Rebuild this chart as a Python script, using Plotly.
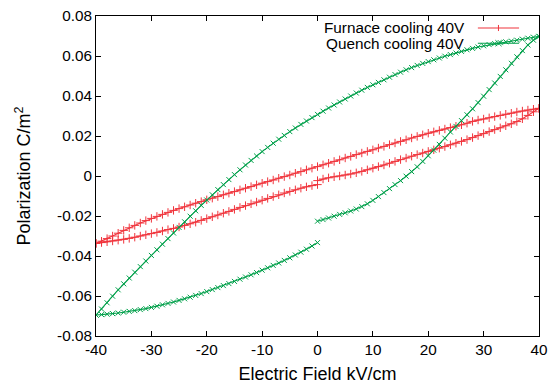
import plotly.graph_objects as go

# Field sweep grid (kV/cm): each loop goes 0 -> +40 -> -40 -> 0
field_up = list(range(0, 41))          # 0 .. 40
field_down = list(range(40, -41, -1))  # 40 .. -40
field_back = list(range(-40, 1))       # -40 .. 0

# Furnace cooling 40V, polarization (C/m^2)
furnace_rise = [
    -0.0023, -0.0015, -0.0009, -0.0004, 0.0000, 0.0005, 0.0010, 0.0016, 0.0023, 0.0031,
    0.0039, 0.0047, 0.0055, 0.0064, 0.0073, 0.0082, 0.0090, 0.0099, 0.0107, 0.0115,
    0.0123, 0.0131, 0.0139, 0.0147, 0.0156, 0.0164, 0.0173, 0.0182, 0.0192, 0.0202,
    0.0212, 0.0222, 0.0232, 0.0241, 0.0251, 0.0261, 0.0272, 0.0286, 0.0303, 0.0321,
    0.0338,
]
furnace_fall = [
    0.0338, 0.0334, 0.0330, 0.0325, 0.0320, 0.0314, 0.0309, 0.0303, 0.0297, 0.0291,
    0.0285, 0.0280, 0.0273, 0.0264, 0.0256, 0.0249, 0.0242, 0.0235, 0.0228, 0.0221,
    0.0214, 0.0206, 0.0198, 0.0190, 0.0181, 0.0173, 0.0165, 0.0157, 0.0148, 0.0140,
    0.0131, 0.0123, 0.0115, 0.0107, 0.0098, 0.0090, 0.0081, 0.0073, 0.0064, 0.0056,
    0.0047, 0.0039, 0.0031, 0.0022, 0.0014, 0.0005, -0.0003, -0.0011, -0.0020, -0.0028,
    -0.0036, -0.0044, -0.0053, -0.0061, -0.0069, -0.0078, -0.0086, -0.0094, -0.0103, -0.0111,
    -0.0119, -0.0128, -0.0136, -0.0145, -0.0154, -0.0163, -0.0172, -0.0182, -0.0192, -0.0202,
    -0.0212, -0.0223, -0.0235, -0.0247, -0.0259, -0.0272, -0.0286, -0.0300, -0.0313, -0.0326,
    -0.0337,
]
furnace_back = [
    -0.0337, -0.0333, -0.0329, -0.0325, -0.0321, -0.0317, -0.0312, -0.0306, -0.0300, -0.0294,
    -0.0288, -0.0282, -0.0275, -0.0268, -0.0262, -0.0255, -0.0247, -0.0239, -0.0231, -0.0222,
    -0.0213, -0.0204, -0.0195, -0.0186, -0.0177, -0.0167, -0.0157, -0.0148, -0.0139, -0.0130,
    -0.0121, -0.0112, -0.0103, -0.0094, -0.0085, -0.0077, -0.0069, -0.0061, -0.0054, -0.0048,
    -0.0043,
]

# Quench cooling 40V, polarization (C/m^2)
quench_rise = [
    -0.0226, -0.0218, -0.0210, -0.0201, -0.0192, -0.0184, -0.0175, -0.0165, -0.0153, -0.0139,
    -0.0122, -0.0103, -0.0083, -0.0063, -0.0043, -0.0023, -0.0001, 0.0022, 0.0046, 0.0073,
    0.0101, 0.0129, 0.0158, 0.0189, 0.0220, 0.0248, 0.0277, 0.0306, 0.0336, 0.0367,
    0.0399, 0.0432, 0.0465, 0.0498, 0.0531, 0.0564, 0.0596, 0.0627, 0.0655, 0.0679,
    0.0698,
]
quench_fall = [
    0.0698, 0.0694, 0.0689, 0.0684, 0.0679, 0.0675, 0.0671, 0.0667, 0.0662, 0.0657,
    0.0651, 0.0645, 0.0638, 0.0631, 0.0623, 0.0615, 0.0607, 0.0599, 0.0590, 0.0581,
    0.0572, 0.0563, 0.0553, 0.0542, 0.0531, 0.0519, 0.0507, 0.0494, 0.0481, 0.0468,
    0.0456, 0.0443, 0.0429, 0.0415, 0.0400, 0.0385, 0.0370, 0.0355, 0.0340, 0.0324,
    0.0308, 0.0292, 0.0275, 0.0258, 0.0240, 0.0222, 0.0203, 0.0184, 0.0164, 0.0143,
    0.0122, 0.0100, 0.0078, 0.0055, 0.0031, 0.0007, -0.0018, -0.0043, -0.0068, -0.0094,
    -0.0120, -0.0147, -0.0174, -0.0201, -0.0229, -0.0257, -0.0285, -0.0313, -0.0341, -0.0369,
    -0.0397, -0.0425, -0.0453, -0.0481, -0.0510, -0.0539, -0.0569, -0.0601, -0.0634, -0.0665,
    -0.0695,
]
quench_back = [
    -0.0695, -0.0693, -0.0691, -0.0688, -0.0685, -0.0681, -0.0677, -0.0673, -0.0668, -0.0663,
    -0.0657, -0.0651, -0.0644, -0.0637, -0.0630, -0.0622, -0.0614, -0.0606, -0.0597, -0.0588,
    -0.0578, -0.0568, -0.0558, -0.0548, -0.0538, -0.0527, -0.0516, -0.0505, -0.0494, -0.0483,
    -0.0471, -0.0459, -0.0447, -0.0435, -0.0422, -0.0409, -0.0395, -0.0381, -0.0366, -0.0350,
    -0.0333,
]

series_names = ["Furnace cooling 40V", "Quench cooling 40V"]
x_ticks = [-40, -30, -20, -10, 0, 10, 20, 30, 40]
x_tick_text = ["-40", "-30", "-20", "-10", "0", "10", "20", "30", "40"]
y_ticks = [-0.08, -0.06, -0.04, -0.02, 0, 0.02, 0.04, 0.06, 0.08]
y_tick_text = ["-0.08", "-0.06", "-0.04", "-0.02", "0", "0.02", "0.04", "0.06", "0.08"]

RED = "#f0343c"
GREEN = "#00a04a"
FONT = "Liberation Sans, Arial, sans-serif"
FS = 15.3

field_loop = field_up + field_down + field_back

fig = go.Figure()
fig.add_trace(go.Scatter(
    x=field_loop, y=furnace_rise + furnace_fall + furnace_back,
    mode="lines+markers", name=series_names[0],
    line=dict(color=RED, width=1.1),
    marker=dict(symbol="cross-thin", size=6, line=dict(color=RED, width=1)),
    showlegend=False,
))
fig.add_trace(go.Scatter(
    x=field_loop, y=quench_rise + quench_fall + quench_back,
    mode="lines+markers", name=series_names[1],
    line=dict(color=GREEN, width=1.1),
    marker=dict(symbol="x-thin", size=5, line=dict(color=GREEN, width=1)),
    showlegend=False,
))

# gnuplot-style key: right-aligned labels with line samples to their right
key_rows = [(series_names[0], RED, 0.9625, "plus"), (series_names[1], GREEN, 0.915, "cross")]
sx0, sx1 = 0.862, 0.955
sxm = (sx0 + sx1) / 2
dx, dy = 0.007, 0.0095
for label, color, ky, tick in key_rows:
    fig.add_annotation(
        xref="paper", yref="paper", x=0.8375, y=ky, xanchor="right", yanchor="middle",
        text=label, showarrow=False, font=dict(family=FONT, size=FS, color="black"),
    )
    fig.add_shape(
        type="line", xref="paper", yref="paper", x0=sx0, x1=sx1, y0=ky, y1=ky,
        line=dict(color=color, width=1.1),
    )
    if tick == "plus":
        fig.add_shape(type="line", xref="paper", yref="paper",
                      x0=sxm, x1=sxm, y0=ky - dy, y1=ky + dy,
                      line=dict(color=color, width=1))
    else:
        fig.add_shape(type="line", xref="paper", yref="paper",
                      x0=sxm - dx, x1=sxm + dx, y0=ky - dy, y1=ky + dy,
                      line=dict(color=color, width=1))
        fig.add_shape(type="line", xref="paper", yref="paper",
                      x0=sxm - dx, x1=sxm + dx, y0=ky + dy, y1=ky - dy,
                      line=dict(color=color, width=1))

fig.update_layout(
    width=549, height=387,
    margin=dict(l=96, r=10, t=16, b=51),
    paper_bgcolor="white", plot_bgcolor="white",
    font=dict(family=FONT, size=FS, color="black"),
)
fig.update_xaxes(
    range=[-40, 40], tickvals=x_ticks, ticktext=x_tick_text, ticks="inside",
    ticklen=5, tickwidth=1, tickcolor="black", showline=True, linecolor="black",
    linewidth=1, mirror="allticks", showgrid=False, zeroline=False, automargin=False,
    title=dict(text="Electric Field kV/cm", standoff=10),
)
fig.update_yaxes(
    range=[-0.08, 0.08], tickvals=y_ticks, ticktext=y_tick_text, ticks="inside",
    ticklen=5, tickwidth=1, tickcolor="black", showline=True, linecolor="black",
    linewidth=1, mirror="allticks", showgrid=False, zeroline=False, automargin=False,
    title=dict(text="Polarization C/m<sup>2</sup>", standoff=21),
)

fig.write_html("out.html")
